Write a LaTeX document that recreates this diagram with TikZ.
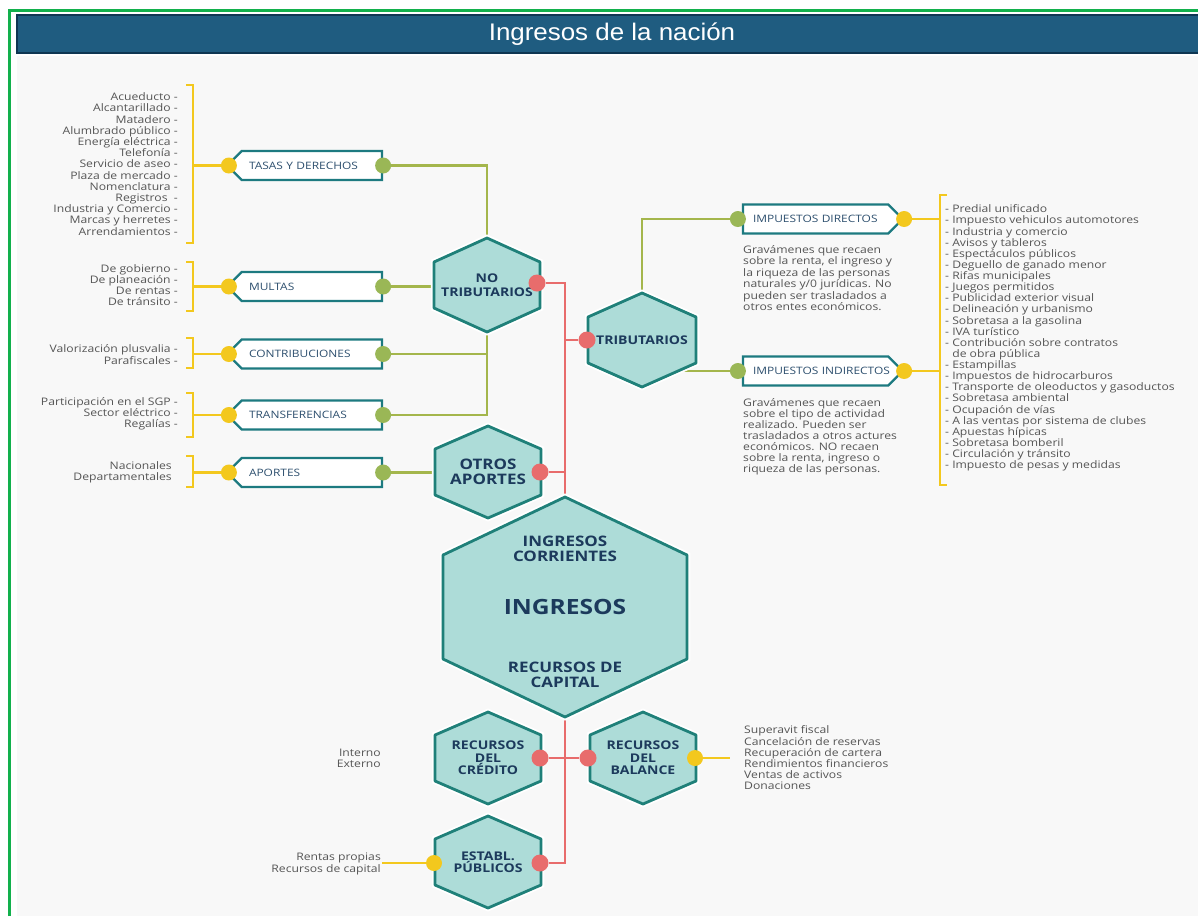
\documentclass[tikz,border=0pt]{standalone}
\usepackage{fontspec}
\setmainfont{Open Sans}[FakeStretch=1.17]
\newfontfamily\titlefont{Liberation Sans}[FakeStretch=1.08]
\usetikzlibrary{shapes.misc,calc}

\definecolor{framegreen}{HTML}{12B04C}
\definecolor{barblue}{HTML}{1F5C80}
\definecolor{bardark}{HTML}{0F3652}
\definecolor{pagebg}{HTML}{F8F8F8}
\definecolor{hexfill}{HTML}{ADDCD8}
\definecolor{hexline}{HTML}{1F8079}
\definecolor{hextext}{HTML}{1C3A5C}
\definecolor{boxline}{HTML}{1D7A80}
\definecolor{boxtext}{HTML}{2D4F6E}
\definecolor{listc}{HTML}{555555}
\definecolor{olivec}{HTML}{A4B64C}
\definecolor{greenc}{HTML}{9AB756}
\definecolor{yelc}{HTML}{F3C81E}
\definecolor{redc}{HTML}{E86C6C}

\pgfdeclarelayer{back}
\pgfsetlayers{back,main}

\tikzset{
  cline/.style={line width=2.2pt},
  oline/.style={cline, draw=olivec},
  yline/.style={cline, draw=yelc},
  rline/.style={cline, draw=redc},
  pdot/.style={circle, inner sep=0pt, minimum size=16pt},
  ydot/.style={pdot, fill=yelc},
  gdot/.style={pdot, fill=greenc},
  rdot/.style={pdot, fill=redc, minimum size=17pt},
  hexshape/.style={fill=hexfill, draw=hexline, line width=2.8pt, line join=round,
    preaction={draw=white, line width=6.5pt}},
  hexlabel/.style={inner sep=0pt, align=center, text=hextext,
    font=\bfseries\fontsize{12}{14}\selectfont},
  tagbox/.style={chamfered rectangle, chamfered rectangle sep=6pt, draw=boxline,
    line width=2.2pt, fill=white, minimum height=29pt, inner xsep=0pt, inner ysep=2pt,
    align=left, text=boxtext, font=\fontsize{10.2}{12}\selectfont},
  ltag/.style={tagbox, chamfered rectangle corners={north west,south west},
    minimum width=152pt, text width=114pt},
  rtag/.style={tagbox, chamfered rectangle corners={north east,south east},
    minimum width=157pt, text width=137pt},
  listtxt/.style={inner sep=1pt, text=listc, font=\fontsize{10.4}{11.2}\selectfont},
}

% hexagon with pointed top: name, cx, cy, half width, half height, half side, font, text
\newcommand\hexa[8]{%
  \draw[hexshape] (#2,{#3-#5}) -- ({#2+#4},{#3-#6}) -- ({#2+#4},{#3+#6})
    -- (#2,{#3+#5}) -- ({#2-#4},{#3+#6}) -- ({#2-#4},{#3-#6}) -- cycle;
  \node[hexlabel, font=\bfseries#7, minimum width={2*#4pt}, minimum height={2*#5pt}] (#1) at (#2,#3) {#8};
}
% brackets: x, top, bottom
\newcommand\lbracket[3]{\draw[yline] ({#1-7},#2) -- (#1,#2) -- (#1,#3) -- ({#1-7},#3);}
\newcommand\rbracket[3]{\draw[yline] ({#1+7},#2) -- (#1,#2) -- (#1,#3) -- ({#1+7},#3);}

\begin{document}
\begin{tikzpicture}[x=1pt,y=-1pt]
\useasboundingbox (0,0) rectangle (1198,916);

% page
\begin{pgfonlayer}{back}
  \fill[white] (0,0) rectangle (1198,916);
  \fill[pagebg] (17,56) rectangle (1198,916);
\end{pgfonlayer}
\draw[framegreen, line width=3pt] (9,916) -- (9,10) -- (1198,10);
\draw[fill=barblue, draw=bardark, line width=1.5pt] (17,15) rectangle (1199,53);
\node[text=white, font=\titlefont\fontsize{24}{24}\selectfont] (title) at (612,34) {Ingresos de la nación};

% hexagons
\hexa{notrib}{487}{285}{53}{47}{23}{\fontsize{12}{14}\selectfont}{NO\\TRIBUTARIOS}
\hexa{trib}{642}{340}{54}{47}{23}{\fontsize{12}{14}\selectfont}{TRIBUTARIOS}
\hexa{otros}{488}{472}{53}{46}{23}{\fontsize{14.5}{15.5}\selectfont}{OTROS\\APORTES}
\hexa{ing}{565}{607}{122}{110}{52}{\fontsize{21}{24}\selectfont}{INGRESOS}
\hexa{cred}{488}{758}{53}{46}{23}{\fontsize{12}{12.5}\selectfont}{RECURSOS\\DEL\\CRÉDITO}
\hexa{bal}{643}{758}{53}{46}{23}{\fontsize{12}{12.5}\selectfont}{RECURSOS\\DEL\\BALANCE}
\hexa{establ}{488}{862}{53}{46}{23}{\fontsize{12}{12.5}\selectfont}{ESTABL.\\PÚBLICOS}
\node[hexlabel, font=\bfseries\fontsize{14.5}{14.5}\selectfont] (ingcorr) at (565,549) {INGRESOS\\CORRIENTES};
\node[hexlabel, font=\bfseries\fontsize{14.5}{15.5}\selectfont] (ingcap) at (565,675) {RECURSOS DE\\CAPITAL};

% tag boxes
\node[ltag] (tasas) at (306,165.5) {TASAS Y DERECHOS};
\node[ltag] (multas) at (306,286.5) {MULTAS};
\node[ltag] (contrib) at (306,354) {CONTRIBUCIONES};
\node[ltag] (transf) at (306,415) {TRANSFERENCIAS};
\node[ltag] (aportes) at (306,472.5) {APORTES};
\node[rtag] (dirs) at (821.5,219) {IMPUESTOS DIRECTOS};
\node[rtag] (indir) at (821.5,371) {IMPUESTOS INDIRECTOS};

% dots
\foreach \b in {tasas,multas,contrib,transf,aportes}{
  \node[ydot] (\b-y) at (\b.west) {};
  \node[gdot] (\b-g) at (\b.east) {};
}
\node[gdot] (dirs-g) at ($(dirs.west)+(-4,0)$) {};
\node[ydot] (dirs-y) at ($(dirs.east)+(3,0)$) {};
\node[gdot] (indir-g) at ($(indir.west)+(-4,0)$) {};
\node[ydot] (indir-y) at ($(indir.east)+(3,0)$) {};
\node[rdot] (notrib-r) at (537,283) {};
\node[rdot] (trib-r) at (587,340) {};
\node[rdot] (otros-r) at (540,472) {};
\node[rdot] (cred-r) at (540,758) {};
\node[rdot] (bal-r) at (588,758) {};
\node[rdot] (establ-r) at (540,863) {};
\node[ydot] (bal-y) at (695,758) {};
\node[ydot] (establ-y) at (434,863) {};

% item lists
\node[listtxt, anchor=east, align=right] (tasaslist) at (179,164) {%
  Acueducto -\\Alcantarillado -\\Matadero -\\Alumbrado público -\\Energía eléctrica -\\
  Telefonía -\\Servicio de aseo -\\Plaza de mercado -\\Nomenclatura -\\Registros\ \ -\\
  Industria y Comercio -\\Marcas y herretes -\\Arrendamientos -};
\node[listtxt, anchor=east, align=right] (multaslist) at (179,285) {%
  De gobierno -\\De planeación -\\De rentas -\\De tránsito -};
\node[listtxt, anchor=east, align=right] (contriblist) at (179,354.5) {%
  Valorización plusvalia -\\Parafiscales -};
\node[listtxt, anchor=east, align=right] (transflist) at (179,414) {%
  Participación en el SGP -\\Sector eléctrico -\\Regalías -};
\node[listtxt, anchor=east, align=right] (aporteslist) at (173,472.5) {%
  Nacionales\\Departamentales};
\node[listtxt, anchor=west, align=left, font=\fontsize{10.4}{11.13}\selectfont] (implist) at (944,338) {%
  - Predial unificado\\- Impuesto vehiculos automotores\\- Industria y comercio\\
  - Avisos y tableros\\- Espectáculos públicos\\- Deguello de ganado menor\\
  - Rifas municipales\\- Juegos permitidos\\- Publicidad exterior visual\\
  - Delineación y urbanismo\\- Sobretasa a la gasolina\\- IVA turístico\\
  - Contribución sobre contratos\\\phantom{- }de obra pública\\- Estampillas\\
  - Impuestos de hidrocarburos\\- Transporte de oleoductos y gasoductos\\
  - Sobretasa ambiental\\- Ocupación de vías\\- A las ventas por sistema de clubes\\
  - Apuestas hípicas\\- Sobretasa bomberil\\- Circulación y tránsito\\
  - Impuesto de pesas y medidas};
\node[listtxt, anchor=west, align=left, font=\fontsize{10.4}{11.4}\selectfont] (dirdesc) at (742,278) {%
  Gravámenes que recaen\\sobre la renta, el ingreso y\\la riqueza de las personas\\
  naturales y/0 jurídicas. No\\pueden ser trasladados a\\otros entes económicos.};
\node[listtxt, anchor=west, align=left, font=\fontsize{10.4}{11}\selectfont] (indirdesc) at (742,437) {%
  Gravámenes que recaen\\sobre el tipo de actividad\\realizado. Pueden ser\\
  trasladados a otros actures\\económicos. NO recaen\\sobre la renta, ingreso o\\
  riqueza de las personas.};
\node[listtxt, anchor=west, align=left] (ballist) at (743,758) {%
  Superavit fiscal\\Cancelación de reservas\\Recuperación de cartera\\
  Rendimientos financieros\\Ventas de activos\\Donaciones};
\node[listtxt, anchor=east, align=right] (credlist) at (382,758) {Interno\\Externo};
\node[listtxt, anchor=east, align=right] (establist) at (382,864) {Rentas propias\\Recursos de capital};

% brackets and connectors
\coordinate (lbrk) at (193,0);
\coordinate (rbrk) at (940,0);
\coordinate (balend) at (730,758);
\begin{pgfonlayer}{back}
  \lbracket{193}{85}{243}
  \lbracket{193}{262}{311}
  \lbracket{193}{338}{368}
  \lbracket{193}{393}{437}
  \lbracket{193}{456}{487}
  \rbracket{940}{195}{485}
  \foreach \b in {tasas,multas,contrib,transf,aportes}{
    \draw[yline] (\b-y) -- (\b-y -| lbrk);
  }
  \draw[yline] (dirs-y) -- (dirs-y -| rbrk);
  \draw[yline] (indir-y) -- (indir-y -| rbrk);
  \draw[yline] (bal-y) -- (balend);
  \draw[yline] (establist.east |- establ-y) -- (establ-y);

  \draw[oline] (tasas-g) -| (notrib.north);
  \draw[oline] (multas-g) -- (multas-g -| notrib.center);
  \draw[oline] (contrib-g) -| (notrib.south);
  \draw[oline] (transf-g) -| (notrib.south);
  \draw[oline] (aportes-g) -- (aportes-g -| otros.center);
  \draw[oline] (trib.north) |- (dirs-g);
  \draw[oline] (indir-g) -- (indir-g -| trib.center);

  \draw[rline] (notrib-r) -| (ing.north);
  \draw[rline] (trib-r) -- (trib-r -| ing.north);
  \draw[rline] (otros-r) -- (otros-r -| ing.north);
  \draw[rline] (ing.south) |- (establ-r);
  \draw[rline] (cred-r) -- (bal-r);
\end{pgfonlayer}
\end{tikzpicture}
\end{document}
